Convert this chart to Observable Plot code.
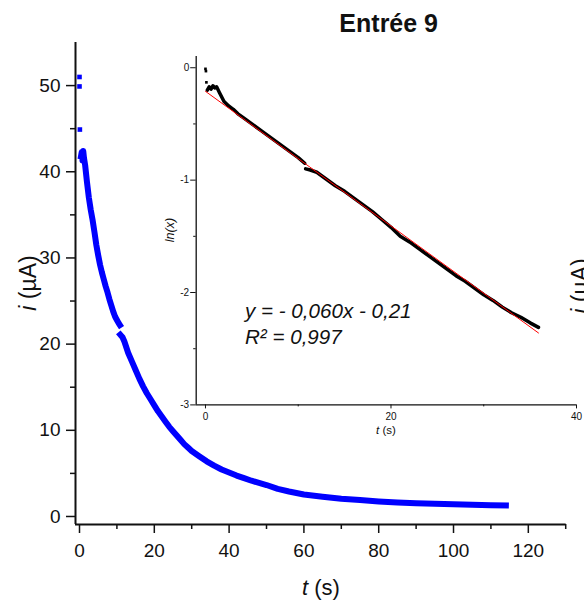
<!DOCTYPE html>
<html><head><meta charset="utf-8">
<script src="https://cdn.jsdelivr.net/npm/d3@7"></script>
<script src="https://cdn.jsdelivr.net/npm/@observablehq/plot@0.6"></script>
<style>
body{margin:0;background:#fff;}
#wrap{position:relative;width:584px;height:605px;overflow:hidden;font-family:"Liberation Sans",Arial,sans-serif;background:#fff;}
#main,#inset,#over{position:absolute;}
#main{left:0;top:0}
#inset{left:150px;top:45px}
#over{left:0;top:0;pointer-events:none}
</style></head>
<body><div id="wrap"><div id="main"></div><div id="inset"></div>
<svg id="over" width="584" height="605" font-family="Liberation Sans, Arial, sans-serif" fill="#111">
  <text x="388.7" y="31.7" text-anchor="middle" font-size="25" font-weight="bold">Entrée 9</text>
  <text x="321" y="595" text-anchor="middle" font-size="22"><tspan font-style="italic">t</tspan> (s)</text>
  <text transform="translate(36,283) rotate(-90)" text-anchor="middle" font-size="23"><tspan font-style="italic">i</tspan> (µA)</text>
  <text transform="translate(588,286) rotate(-90)" text-anchor="middle" font-size="23"><tspan font-style="italic">i</tspan> (µA)</text>
  <text x="386" y="433.5" text-anchor="middle" font-size="11.5"><tspan font-style="italic">t</tspan> (s)</text>
  <text transform="translate(174,230) rotate(-90)" text-anchor="middle" font-size="12.5" font-style="italic">ln(x)</text>
  <text x="245" y="318.3" font-size="20.6" font-style="italic">y = - 0,060x - 0,21</text>
  <text x="245" y="344" font-size="20.6" font-style="italic">R² = 0,997</text>
</svg>
</div>
<script>
// ---- main chart data: t (s), i (µA) ----
const outlierT = [0, 0, 0.1];
const outlierI = [51.0, 49.9, 44.9];
const upperT = [0.4,0.6,0.8,1.0,1.2,1.5,2.0,2.5,3.0,3.5,4.0,4.5,5.0,5.5,6.0,6.5,7.0,7.5,8.0,8.5,9.0,9.5,10.0,10.5,10.8];
const upperI = [41.8,42.3,41.3,42.4,41.6,40.8,38.8,37.0,35.6,34.4,33.0,31.5,30.3,29.2,28.3,27.5,26.7,26.0,25.2,24.5,23.8,23.2,22.8,22.4,22.2];
const lowerT = [10.9,11.5,12,13,14,15,16,17,18,19,20,21,22,23,24,25,26,27,28,29,30,32,34,36,38,40,42,44,46,48,50,53,56,60,65,70,75,80,85,90,95,100,105,110,114];
const lowerI = [21.1,20.8,20.3,19.0,18.0,17.0,16.0,15.1,14.3,13.6,12.9,12.2,11.6,11.0,10.4,9.9,9.4,8.9,8.4,8.0,7.6,7.0,6.4,5.9,5.45,5.1,4.75,4.45,4.15,3.9,3.65,3.2,2.9,2.55,2.3,2.05,1.9,1.75,1.63,1.54,1.47,1.41,1.36,1.31,1.27];
const mainXTicks = [0,20,40,60,80,100,120];
const mainXMinor = [10,30,50,70,90,110,130];
const mainYTicks = [0,10,20,30,40,50];
const mainYMinor = [5,15,25,35,45];

// ---- inset data: t (s), ln(x) ----
const insetDotT = [0, 0.05, 0.1];
const insetDotV = [-0.01, -0.03, -0.13];
const insetUpperT = [0.2,0.4,0.6,0.8,1.0,1.2,1.5,2.0,2.5,3.0,3.5,4,5,6,7,8,9,10,10.7];
const insetUpperV = [-0.2,-0.17,-0.19,-0.16,-0.18,-0.17,-0.22,-0.3,-0.34,-0.37,-0.41,-0.44,-0.5,-0.56,-0.62,-0.68,-0.74,-0.8,-0.85];
const insetLowerT = [10.8,11.3,12,13,14,15,16,17,18,19,20,21,22,23,24,25,26,27,28,29,30,31,32,33,34,35,35.9];
const insetLowerV = [-0.9,-0.91,-0.93,-0.99,-1.05,-1.1,-1.16,-1.22,-1.28,-1.35,-1.42,-1.5,-1.55,-1.61,-1.67,-1.73,-1.79,-1.85,-1.9,-1.96,-2.02,-2.07,-2.13,-2.18,-2.22,-2.27,-2.31];
const fitT = [0, 35.9];
const fitV = [-0.21, -2.36];
const insetXTicks = [0,20,40];
const insetXMinor = [10,30];
const insetYTicks = [0,-1,-2,-3];
const insetYMinor = [-0.5,-1.5,-2.5];

const zip = (a, b, s) => a.map((t, k) => ({t, v: b[k], s}));
const mainLine = [...zip(upperT, upperI, "a"), ...zip(lowerT, lowerI, "b")];
const mainDots = zip(outlierT, outlierI, "o");
const inLine = [...zip(insetUpperT, insetUpperV, "a"), ...zip(insetLowerT, insetLowerV, "b")];
const inDots = zip(insetDotT, insetDotV, "o");
const fit = zip(fitT, fitV, "f");

const mxd = [-1.07, 130.13], myd = [-0.93, 55];
const ink = "#111";
const main = Plot.plot({
  width: 584, height: 605,
  marginLeft: 75, marginRight: 18.3, marginTop: 42, marginBottom: 81,
  style: {background: "transparent", fontFamily: "Liberation Sans, Arial, sans-serif", color: ink},
  x: {domain: mxd}, y: {domain: myd},
  marks: [
    Plot.axisY({ticks: mainYTicks, tickSize: 9, tickPadding: 6, fontSize: 19, label: null, strokeWidth: 1.5, tickFormat: d => String(d)}),
    Plot.axisY({ticks: mainYMinor, tickSize: 5, label: null, strokeWidth: 1.5, tickFormat: () => ""}),
    Plot.axisX({ticks: mainXTicks, tickSize: 9, tickPadding: 10, fontSize: 19, label: null, strokeWidth: 1.5, tickFormat: d => String(d)}),
    Plot.axisX({ticks: mainXMinor, tickSize: 5, label: null, strokeWidth: 1.5, tickFormat: () => ""}),
    Plot.ruleX([mxd[0]], {stroke: ink, strokeWidth: 2}),
    Plot.ruleY([myd[0]], {stroke: ink, strokeWidth: 2}),
    Plot.line(mainLine, {x: "t", y: "v", z: "s", stroke: "#0000ff", strokeWidth: 6, strokeLinejoin: "round", strokeLinecap: "square"}),
    Plot.dot(mainDots, {x: "t", y: "v", symbol: "square", r: 2.6, fill: "#0000ff", stroke: null})
  ]
});
document.getElementById("main").appendChild(main);

const ixd = [-1, 40], iyd = [-3, 0.1];
const inset = Plot.plot({
  width: 434, height: 405,
  marginLeft: 45.7, marginRight: 8, marginTop: 11, marginBottom: 45.6,
  style: {background: "transparent", fontFamily: "Liberation Sans, Arial, sans-serif", color: ink, overflow: "visible"},
  x: {domain: ixd}, y: {domain: iyd},
  marks: [
    Plot.axisY({ticks: insetYTicks, tickSize: 5.5, tickPadding: 1.5, fontSize: 10, label: null, tickFormat: d => String(d)}),
    Plot.axisY({ticks: insetYMinor, tickSize: 2.5, label: null, tickFormat: () => ""}),
    Plot.axisX({ticks: insetXTicks, tickSize: 4, tickPadding: 4, fontSize: 10, label: null, tickFormat: d => String(d)}),
    Plot.axisX({ticks: insetXMinor, tickSize: 2, label: null, tickFormat: () => ""}),
    Plot.ruleX([ixd[0]], {stroke: ink, strokeWidth: 1.3}),
    Plot.ruleY([iyd[0]], {stroke: ink, strokeWidth: 1.3}),
    Plot.line(inLine, {x: "t", y: "v", z: "s", stroke: "#000", strokeWidth: 3.5, strokeLinejoin: "round"}),
    Plot.dot(inDots, {x: "t", y: "v", symbol: "square", r: 1.5, fill: "#000", stroke: null}),
    Plot.line(fit, {x: "t", y: "v", stroke: "#ff0000", strokeWidth: 1})
  ]
});
document.getElementById("inset").appendChild(inset);
</script>
</body></html>
